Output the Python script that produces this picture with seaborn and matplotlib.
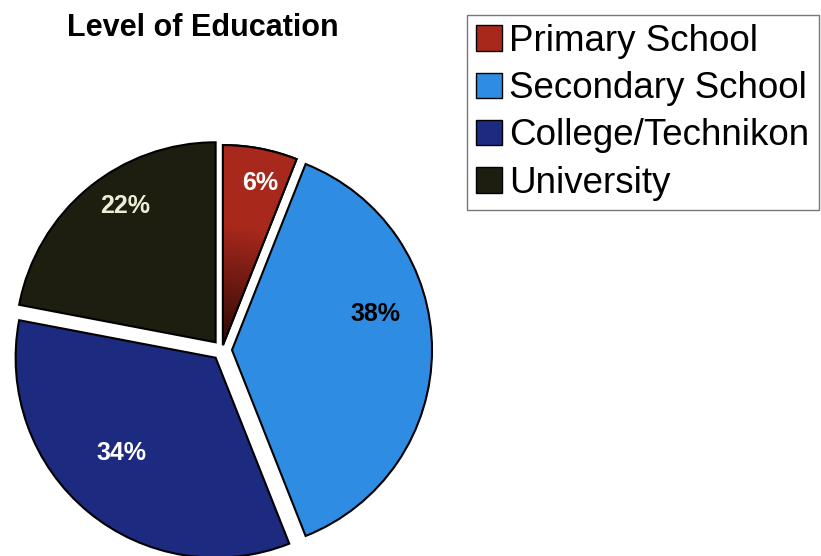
import numpy as np
import matplotlib
matplotlib.use("Agg")
import matplotlib.pyplot as plt
from matplotlib.colors import to_rgb
import seaborn as sns

sns.set_theme(style="white")
plt.rcParams["font.family"] = ["Liberation Sans", "DejaVu Sans"]
plt.rcParams["text.color"] = "black"

# data
categories = ["Primary School", "Secondary School", "College/Technikon", "University"]
shares = [6, 38, 34, 22]
colors = ["#A8281C", "#2E8DE2", "#1C2A80", "#1E1E10"]
label_colors = ["white", "black", "white", "#EEEED8"]
# where each % label sits: fraction of radius from wedge tip, angle shift (deg, clockwise)
label_frac = [0.83, 0.74, 0.67, 0.82]
label_shift = [2, -14, 5, 6]

fig = plt.figure(figsize=(8.21, 5.56), dpi=100)
ax = fig.add_axes([0, 0, 1, 1])
ax.axis("off")

cx, cy, R = 222, 206, 200
wedges, _ = ax.pie(shares, colors=colors, startangle=90, counterclock=False,
                   explode=[5, 10, 10, 10], center=(cx, cy), radius=R,
                   wedgeprops=dict(edgecolor="black", linewidth=1.5))

# dark-to-red shading on the primary wedge
w0 = wedges[0]
x0, y0 = w0.center
gx, gy = np.meshgrid(np.linspace(x0 - R, x0 + R, 300), np.linspace(y0 - R, y0 + R, 300))
t = np.clip(np.hypot(gx - x0, gy - y0) / (0.6 * R), 0, 1)[..., None]
dark, red = np.array(to_rgb("#2A0A06")), np.array(to_rgb(colors[0]))
img = dark + (red - dark) * t
im = ax.imshow(img, extent=(x0 - R, x0 + R, y0 - R, y0 + R), origin="lower",
               zorder=w0.get_zorder() + 0.1)
im.set_clip_path(w0)
ax.add_patch(plt.matplotlib.patches.Wedge(w0.center, R, w0.theta1, w0.theta2,
                                          fill=False, edgecolor="black",
                                          linewidth=1.5, zorder=w0.get_zorder() + 0.2))

ax.set_xlim(0, 821)
ax.set_ylim(0, 556)
ax.set_aspect("equal")

for w, pct, col, fr, sh in zip(wedges, shares, label_colors, label_frac, label_shift):
    mid = np.deg2rad((w.theta1 + w.theta2) / 2 - sh)
    x = w.center[0] + fr * R * np.cos(mid)
    y = w.center[1] + fr * R * np.sin(mid)
    ax.text(x, y, f"{pct}%", color=col, fontsize=18, fontweight="bold",
            ha="center", va="center", zorder=5)

fig.text(203 / 821, 1 - 28 / 556, "Level of Education", fontsize=22,
         fontweight="bold", ha="center", va="center", color="black")

leg = fig.legend(wedges, categories, loc="upper left",
                 bbox_to_anchor=(467 / 821, 1 - 15 / 556), fontsize=26.5,
                 frameon=True, fancybox=False, edgecolor="#555555",
                 handlelength=0.7, handleheight=0.7, handletextpad=0.2,
                 labelspacing=0.33, borderpad=0.25, borderaxespad=0)
leg.get_frame().set_linewidth(1.0)
for h in leg.legend_handles:
    h.set_linewidth(1.0)
for txt in leg.get_texts():
    txt.set_color("black")

fig.savefig("out.png", dpi=100)
